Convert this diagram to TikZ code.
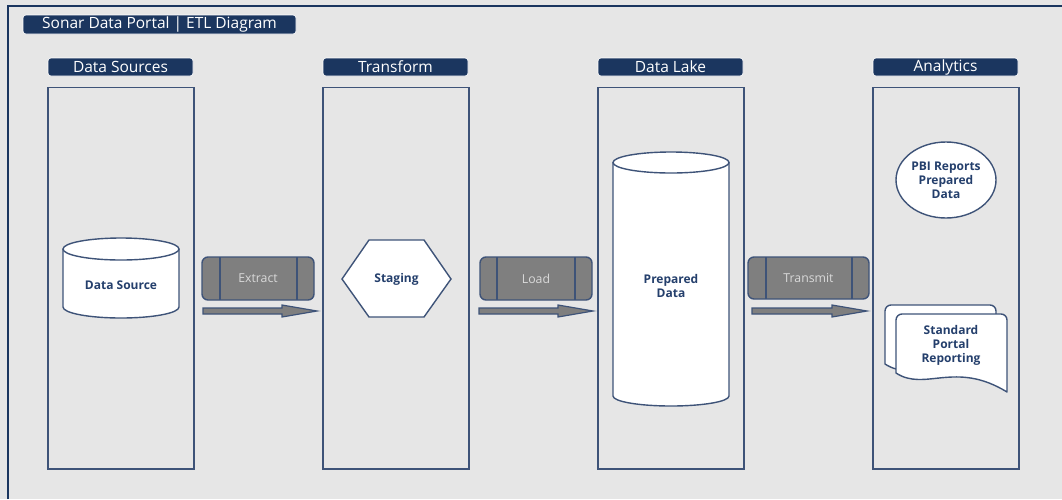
\documentclass[tikz,border=0pt]{standalone}
\usepackage{fontspec}
\setmainfont{Open Sans}
\usetikzlibrary{shapes.geometric}
\definecolor{bgc}{HTML}{E6E6E6}
\definecolor{navy}{HTML}{1B365F}
\definecolor{edge}{HTML}{3E5378}
\definecolor{procfill}{HTML}{7F7F7F}
\definecolor{proctext}{HTML}{D9D9D9}
\definecolor{lbl}{HTML}{243F6C}
\tikzset{
  header/.style={fill=navy, draw=white, line width=0.6pt, rounded corners=3pt, text=white, font=\fontsize{15.5}{17}\selectfont, inner sep=0pt},
  column/.style={draw=edge, line width=1.6pt},
  shapeline/.style={draw=edge, line width=1.4pt, fill=white},
  proc/.style={draw=edge, line width=1.4pt, fill=procfill, rounded corners=6pt},
  proclabel/.style={text=proctext, font=\fontsize{12.3}{14}\selectfont},
  bold/.style={text=lbl, font=\bfseries\fontsize{12}{14}\selectfont, align=center},
  blockarrow/.style={draw=edge, line width=1.2pt, fill=procfill, line join=miter},
}
\begin{document}
\begin{tikzpicture}[x=1pt, y=-1pt]
\fill[bgc] (0,0) rectangle (1062,499);
\useasboundingbox (0,0) rectangle (1062,499);
% outer frame
\draw[navy, line width=2.5pt] (8,499) -- (8,6) -- (1062,6);
% title
\node[header, minimum width=273pt, minimum height=19pt] (title) at (159.5,24.5) {Sonar Data Portal | ETL Diagram};
% columns
\foreach \n/\x/\t in {c1/48/Data Sources, c2/323/Transform, c3/598/Data Lake, c4/873/Analytics}{
  \node[header, minimum width=145pt, minimum height=18pt] (\n h) at (\x+72.5,67) {\t};
  \draw[column] (\x,87.5) rectangle (\x+146,469);
}
% Data Source cylinder
\draw[shapeline] (63,249) -- (63,307) arc[start angle=180, end angle=0, x radius=58, y radius=11] -- (179,249);
\draw[shapeline] (121,249) ellipse[x radius=58, y radius=11];
\node[bold] (ds) at (121,285) {Data Source};
% Extract
\node[proc, minimum width=112pt, minimum height=43pt] (extract) at (258,278.5) {};
\draw[edge, line width=1.4pt] (220,257) -- (220,300) (297,257) -- (297,300);
\node[proclabel] at (extract) {Extract};
\draw[blockarrow] (203,308) -- (282,308) -- (282,305) -- (317,311) -- (282,317) -- (282,314) -- (203,314) -- cycle;
% Staging hexagon
\draw[shapeline] (342,279) -- (369,240) -- (424,240) -- (451,279) -- (424,317) -- (369,317) -- cycle;
\node[bold] (stg) at (396.5,279) {Staging};
% Load
\node[proc, minimum width=112pt, minimum height=43pt] (load) at (536,278.5) {};
\draw[edge, line width=1.4pt] (497,257) -- (497,300) (575,257) -- (575,300);
\node[proclabel] at (load) {Load};
\draw[blockarrow] (479,308) -- (558,308) -- (558,305) -- (593,311) -- (558,317) -- (558,314) -- (479,314) -- cycle;
% Prepared Data cylinder
\draw[shapeline] (613,162.5) -- (613,396) arc[start angle=180, end angle=0, x radius=58, y radius=10] -- (729,162.5);
\draw[shapeline] (671,162.5) ellipse[x radius=58, y radius=10.5];
\node[bold] (pd) at (671,286) {Prepared\\Data};
% Transmit
\node[proc, minimum width=121pt, minimum height=42pt] (transmit) at (808.5,278) {};
\draw[edge, line width=1.4pt] (766,257) -- (766,299) (852,257) -- (852,299);
\node[proclabel] at (transmit) {Transmit};
\draw[blockarrow] (752,308) -- (832,308) -- (832,305) -- (867,311) -- (832,317) -- (832,314) -- (752,314) -- cycle;
% PBI ellipse
\node[ellipse, shapeline, minimum width=100pt, minimum height=76pt, inner sep=0pt] (pbi) at (946,180) {};
\node[bold] at (pbi) {PBI Reports\\Prepared\\Data};
% multiple documents
\begin{scope}[shift={(-11,-9)}]
\draw[shapeline, line join=round] (896,373) -- (896,320) arc[start angle=180, end angle=270, radius=6] -- (1001,314) arc[start angle=270, end angle=360, radius=6] -- (1007,392) .. controls (955,360) and (925,392) .. (896,373) -- cycle;
\end{scope}
\draw[shapeline, line join=round] (896,373) -- (896,320) arc[start angle=180, end angle=270, radius=6] -- (1001,314) arc[start angle=270, end angle=360, radius=6] -- (1007,392) .. controls (955,360) and (925,392) .. (896,373) -- cycle;
\node[bold] (spr) at (951,345) {Standard\\Portal\\Reporting};
\end{tikzpicture}
\end{document}
